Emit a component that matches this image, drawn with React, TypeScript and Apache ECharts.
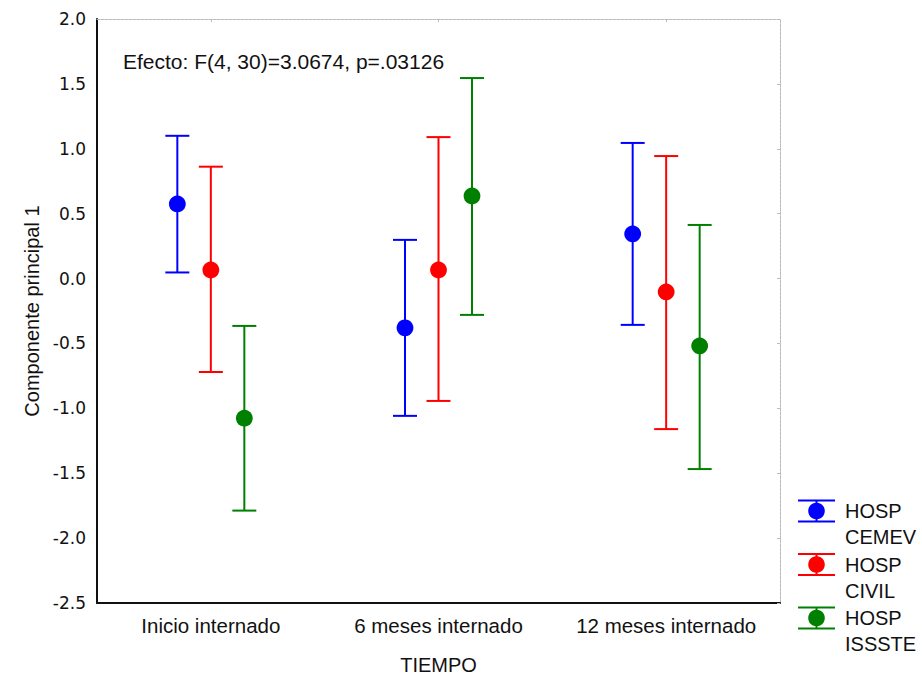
import React, { useEffect, useRef } from "react";
import * as echarts from "echarts";

const categories = ["Inicio internado", "6 meses internado", "12 meses internado"];
const yTicks = { min: -2.5, max: 2.0, interval: 0.5 };

const seriesNames = ["HOSP\nCEMEV", "HOSP\nCIVIL", "HOSP\nISSSTE"];
const cemevMean = [0.575, -0.38, 0.344];
const cemevLow = [0.047, -1.058, -0.357];
const cemevHigh = [1.1, 0.298, 1.045];
const civilMean = [0.066, 0.066, -0.103];
const civilLow = [-0.72, -0.943, -1.16];
const civilHigh = [0.862, 1.09, 0.944];
const isssteMean = [-1.076, 0.636, -0.519];
const isssteLow = [-1.788, -0.28, -1.468];
const isssteHigh = [-0.365, 1.545, 0.413];

const effectText = "Efecto: F(4, 30)=3.0674, p=.03126";

const COLORS = ["#0000ff", "#ff0000", "#008000"];
const OFFSETS = [-33.5, 0, 33.5];
const FONT = "Liberation Sans, Arial, sans-serif";
const TICKFONT = "DejaVu Sans, sans-serif";

export default function App() {
  const ref = useRef<HTMLDivElement>(null);
  useEffect(() => {
    document.body.style.margin = "0";
    if (!ref.current) return;
    const chart = echarts.init(ref.current, undefined, { renderer: "svg" });
    const groups = [
      [cemevMean, cemevLow, cemevHigh],
      [civilMean, civilLow, civilHigh],
      [isssteMean, isssteLow, isssteHigh],
    ];
    const series = groups.map((g, si) => ({
      type: "custom",
      name: seriesNames[si],
      xAxisIndex: 0,
      yAxisIndex: 0,
      encode: { x: 0, y: [1, 2, 3] },
      data: categories.map((_, i) => [i, g[0][i], g[1][i], g[2][i]]),
      renderItem: (params: any, api: any) => {
        const x = api.value(0);
        const pm = api.coord([x, api.value(1)]);
        const pl = api.coord([x, api.value(2)]);
        const ph = api.coord([x, api.value(3)]);
        const cx = pm[0] + OFFSETS[si];
        const st = { stroke: COLORS[si], lineWidth: 2, fill: "none" };
        return {
          type: "group",
          children: [
            { type: "line", shape: { x1: cx, y1: ph[1], x2: cx, y2: pl[1] }, style: st },
            { type: "line", shape: { x1: cx - 12, y1: ph[1], x2: cx + 12, y2: ph[1] }, style: st },
            { type: "line", shape: { x1: cx - 12, y1: pl[1], x2: cx + 12, y2: pl[1] }, style: st },
            { type: "circle", shape: { cx, cy: pm[1], r: 8.4 }, style: { fill: COLORS[si] } },
          ],
        };
      },
    }));

    const legendCenters = [511, 564.5, 618];
    const legendGraphics: any[] = [];
    seriesNames.forEach((n, i) => {
      const c = legendCenters[i];
      const st = { stroke: COLORS[i], lineWidth: 2 };
      legendGraphics.push(
        { type: "line", shape: { x1: 798, y1: c - 10.5, x2: 835, y2: c - 10.5 }, style: st },
        { type: "line", shape: { x1: 798, y1: c + 10.5, x2: 835, y2: c + 10.5 }, style: st },
        { type: "line", shape: { x1: 816.5, y1: c - 10.5, x2: 816.5, y2: c + 10.5 }, style: st },
        { type: "circle", shape: { cx: 816.5, cy: c, r: 8.3 }, style: { fill: COLORS[i] } },
        {
          type: "text",
          x: 845,
          y: c - 13,
          style: {
            text: n,
            fill: "#111",
            font: `20px ${FONT}`,
            lineHeight: 26,
            verticalAlign: "top",
            align: "left",
          },
        }
      );
    });

    chart.setOption({
      animation: false,
      backgroundColor: "#fff",
      grid: { left: 97, top: 19, right: 142, bottom: 73, outerBoundsMode: "none", containLabel: false },
      xAxis: [
        {
          type: "category",
          data: categories,
          position: "bottom",
          name: "TIEMPO",
          nameLocation: "middle",
          nameGap: 52,
          nameTextStyle: { fontFamily: FONT, fontSize: 20, color: "#111" },
          axisLine: { onZero: false, lineStyle: { color: "#111", width: 2 } },
          axisTick: { show: false },
          axisLabel: { interval: 0, margin: 12, fontFamily: FONT, fontSize: 20.5, color: "#111" },
          splitLine: { show: false },
        },
        {
          type: "category",
          data: categories,
          position: "top",
          axisLine: { onZero: false, lineStyle: { color: "#bbb", width: 1, type: [3, 1] } },
          axisTick: { show: true, inside: true, length: 3, alignWithLabel: true, lineStyle: { color: "#bbb" } },
          axisLabel: { show: false },
          splitLine: { show: false },
        },
      ],
      yAxis: [
        {
          type: "value",
          min: yTicks.min,
          max: yTicks.max,
          interval: yTicks.interval,
          name: "Componente principal 1",
          nameLocation: "middle",
          nameGap: 53,
          nameRotate: 90,
          nameTextStyle: { fontFamily: FONT, fontSize: 20, color: "#111" },
          axisLine: { show: true, onZero: false, lineStyle: { color: "#111", width: 2 } },
          axisTick: { show: false },
          axisLabel: {
            margin: 11,
            fontFamily: TICKFONT,
            fontSize: 17,
            color: "#111",
            formatter: (v: number) => v.toFixed(1),
          },
          splitLine: { show: false },
        },
        {
          type: "value",
          min: yTicks.min,
          max: yTicks.max,
          interval: yTicks.interval,
          position: "right",
          axisLine: { show: true, onZero: false, lineStyle: { color: "#bbb", width: 1, type: [3, 1] } },
          axisTick: { show: true, inside: true, length: 3, lineStyle: { color: "#bbb" } },
          axisLabel: { show: false },
          splitLine: { show: false },
        },
      ],
      graphic: [
        {
          type: "text",
          x: 123,
          y: 61,
          style: {
            text: effectText,
            fill: "#111",
            font: `21px ${FONT}`,
            verticalAlign: "middle",
            align: "left",
          },
        },
        ...legendGraphics,
      ],
      series,
    });
    return () => chart.dispose();
  }, []);
  return <div ref={ref} style={{ width: 922, height: 676 }} />;
}
